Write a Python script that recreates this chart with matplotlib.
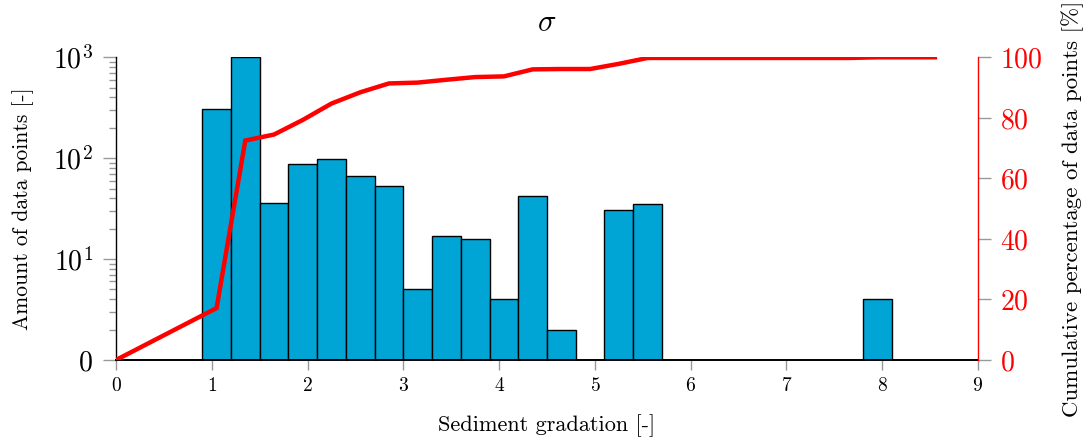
import numpy as np
import matplotlib
matplotlib.use("Agg")
import matplotlib.pyplot as plt
from matplotlib.ticker import FixedLocator, NullFormatter

plt.rcParams['font.family'] = ['cmr10', 'DejaVu Serif']
plt.rcParams['mathtext.fontset'] = 'cm'
plt.rcParams['axes.unicode_minus'] = False
plt.rcParams['axes.formatter.use_mathtext'] = True

# ---- data ----
bin_start = 0.9
bin_width = 0.3
counts = [310, 1000, 36, 87, 98, 67, 53, 5, 17, 16, 4, 42, 2, 0,
          31, 35, 0, 0, 0, 0, 0, 0, 0, 4, 0, 0]
x_ticks = [0, 1, 2, 3, 4, 5, 6, 7, 8, 9]
left_ticks = [1, 10, 100, 1000]
left_tick_labels = ['$0$', '$10^{1}$', '$10^{2}$', '$10^{3}$']
right_ticks = [0, 20, 40, 60, 80, 100]

counts_arr = np.array(counts, dtype=float)
edges = bin_start + bin_width * np.arange(len(counts))
centers = edges + bin_width / 2
cum_pct = np.cumsum(counts_arr) / counts_arr.sum() * 100
curve_x = np.concatenate([[0.0], centers])
curve_y = np.concatenate([[0.0], cum_pct])

fig = plt.figure(figsize=(10.88, 4.41), dpi=100)
ax = fig.add_axes([116/1088, 1 - 360/441, (978-116)/1088, (360-57.3)/441])

mask = counts_arr > 0
ax.bar(edges[mask], counts_arr[mask], width=bin_width, align='edge',
       color='#00a5d6', edgecolor='black', linewidth=1.0, zorder=2)
ax.set_yscale('log')
ax.set_ylim(1, 1000)
ax.set_xlim(0, 9)
ax.set_yticks(left_ticks)
ax.set_yticklabels(left_tick_labels, fontsize=20)
ax.yaxis.set_minor_locator(FixedLocator(
    [m * 10**e for e in range(0, 3) for m in range(2, 10)]))
ax.yaxis.set_minor_formatter(NullFormatter())
ax.set_xticks(x_ticks)
ax.set_xticklabels([f'${t}$' for t in x_ticks], fontsize=14)
ax.tick_params(axis='y', which='major', direction='out', length=9.5,
               width=1, color='#999999', pad=7)
ax.tick_params(axis='x', which='major', direction='out', length=7,
               width=1, color='#999999', pad=5)
ax.tick_params(axis='y', which='minor', direction='out', length=5,
               width=1, color='#999999')
ax.spines['top'].set_visible(False)
ax.spines['right'].set_visible(False)
ax.spines['bottom'].set_linewidth(1.4)
ax.spines['left'].set_linewidth(1.0)
ax.set_xlabel('Sediment gradation [-]', fontsize=16, labelpad=14)
ax.set_ylabel('Amount of data points [-]', fontsize=15.5, labelpad=14)
ax.set_title(r'$\sigma$', fontsize=22, pad=19)

ax2 = ax.twinx()
ax2.plot(curve_x, curve_y, color='red', linewidth=3.2, zorder=3,
         solid_joinstyle='miter')
ax2.set_ylim(0, 100)
ax2.set_yticks(right_ticks)
ax2.set_yticklabels([f'${t}$' for t in right_ticks], fontsize=20, color='red')
ax2.tick_params(axis='y', direction='out', length=9, width=1,
                color='#999999', pad=7)
for s in ['top', 'left', 'bottom']:
    ax2.spines[s].set_visible(False)
ax2.spines['right'].set_color('red')
ax2.spines['right'].set_linewidth(1.0)
ax2.set_ylabel('Cumulative percentage of data points [%]', fontsize=16.5,
               labelpad=13)

fig.savefig('out.png', dpi=100)
